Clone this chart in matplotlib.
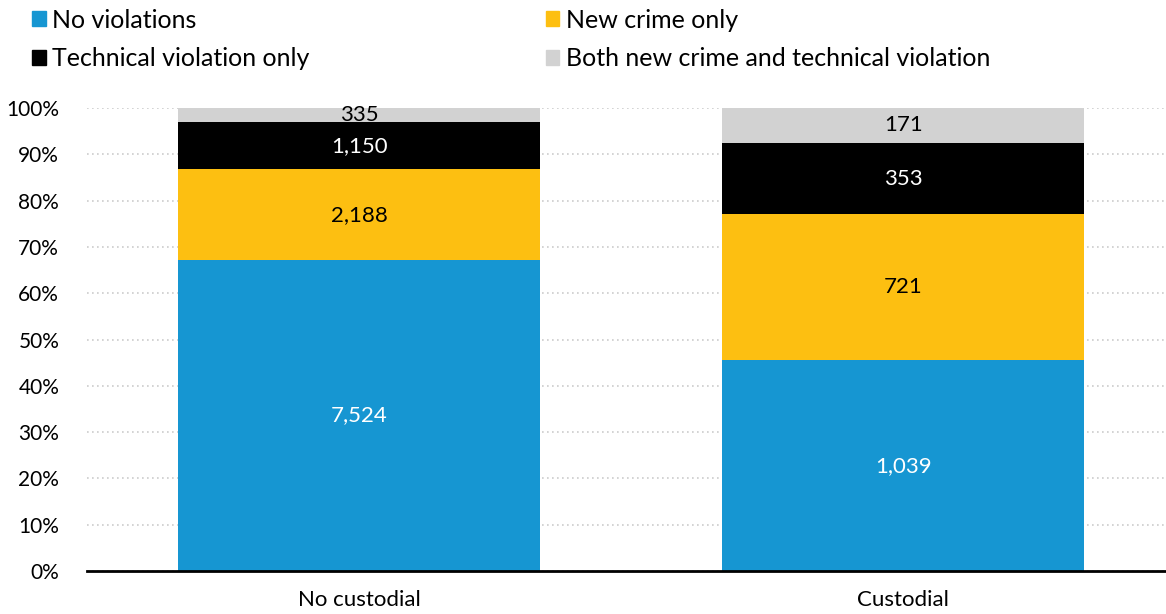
import matplotlib
matplotlib.use('Agg')
import matplotlib.pyplot as plt
from matplotlib.patches import Patch
from matplotlib.ticker import FuncFormatter
import numpy as np

plt.rcParams['font.family'] = ['Lato', 'DejaVu Sans']

categories = ['No custodial', 'Custodial']
series_names = ['No violations', 'New crime only', 'Technical violation only',
                'Both new crime and technical violation']
no_violations = [7524, 1039]
new_crime = [2188, 721]
technical = [1150, 353]
both = [335, 171]

colors = ['#1696d2', '#fdbf11', '#000000', '#d2d2d2']
text_colors = ['white', 'black', 'white', 'black']

counts = np.array([no_violations, new_crime, technical, both], dtype=float)
totals = counts.sum(axis=0)
shares = counts / totals * 100

fig = plt.figure(figsize=(11.66, 6.14), dpi=100)
ax = fig.add_axes([0.0746, 0.070, 0.9254, 0.754])

x = np.arange(len(categories))
bottom = np.zeros(len(categories))
for i in range(len(series_names)):
    ax.bar(x, shares[i], bottom=bottom, width=0.665, color=colors[i], zorder=3)
    for j in range(len(categories)):
        ax.text(x[j], bottom[j] + shares[i][j] / 2, f'{int(counts[i][j]):,}',
                ha='center', va='center', fontsize=16, color=text_colors[i], zorder=4)
    bottom += shares[i]

ax.set_xlim(-0.5, 1.483)
ax.set_ylim(0, 100)
ax.set_yticks(range(0, 101, 10))
ax.yaxis.set_major_formatter(FuncFormatter(lambda v, p: f'{int(v)}%'))
ax.set_xticks(x)
ax.set_xticklabels(categories)
ax.tick_params(axis='x', length=0, labelsize=16, pad=14)
ax.tick_params(axis='y', length=0, labelsize=15, pad=20)
ax.grid(axis='y', color='#cccccc', linestyle=(0, (1, 2)), linewidth=1.2, zorder=0)
for s in ['left', 'right', 'top']:
    ax.spines[s].set_visible(False)
ax.spines['bottom'].set_linewidth(2)
ax.spines['bottom'].set_zorder(5)

handles = [Patch(color=colors[k]) for k in [0, 2, 1, 3]]
labels = [series_names[k] for k in [0, 2, 1, 3]]
fig.legend(handles, labels, ncol=2, loc='upper left', bbox_to_anchor=(0.0274, 0.986),
           frameon=False, fontsize=18, handlelength=0.55, handleheight=0.55,
           handletextpad=0.25, columnspacing=9.45, labelspacing=0.62, borderpad=0,
           borderaxespad=0)

fig.savefig('out.png', dpi=100)
